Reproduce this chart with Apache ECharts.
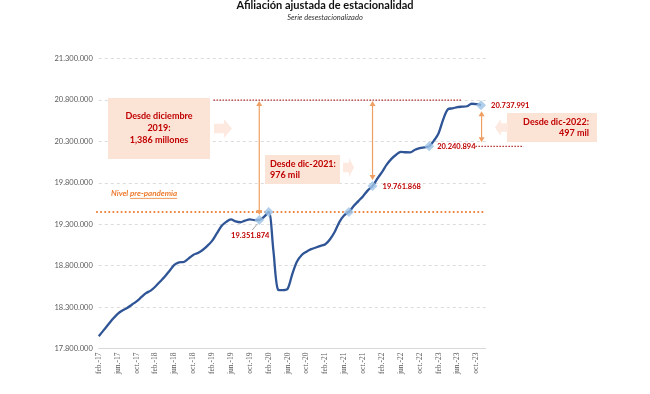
<!DOCTYPE html>
<html><head><meta charset="utf-8">
<script src="https://cdn.jsdelivr.net/npm/echarts@6/dist/echarts.min.js"></script>
<style>html,body{margin:0;padding:0;background:#fff}#c{width:650px;height:394px}</style>
</head><body><div id="c"></div>
<script>
const FONT = 'Lato, "Open Sans", sans-serif';
const title = 'Afiliación ajustada de estacionalidad';
const subtitle = 'Serie desestacionalizado';

const months = [
 'feb.-17','mar.-17','abr.-17','may.-17','jun.-17','jul.-17','ago.-17','sep.-17','oct.-17','nov.-17','dic.-17',
 'ene.-18','feb.-18','mar.-18','abr.-18','may.-18','jun.-18','jul.-18','ago.-18','sep.-18','oct.-18','nov.-18','dic.-18',
 'ene.-19','feb.-19','mar.-19','abr.-19','may.-19','jun.-19','jul.-19','ago.-19','sep.-19','oct.-19','nov.-19','dic.-19',
 'ene.-20','feb.-20','mar.-20','abr.-20','may.-20','jun.-20','jul.-20','ago.-20','sep.-20','oct.-20','nov.-20','dic.-20',
 'ene.-21','feb.-21','mar.-21','abr.-21','may.-21','jun.-21','jul.-21','ago.-21','sep.-21','oct.-21','nov.-21','dic.-21',
 'ene.-22','feb.-22','mar.-22','abr.-22','may.-22','jun.-22','jul.-22','ago.-22','sep.-22','oct.-22','nov.-22','dic.-22',
 'ene.-23','feb.-23','mar.-23','abr.-23','may.-23','jun.-23','jul.-23','ago.-23','sep.-23','oct.-23','nov.-23','dic.-23'
];

const afiliados = [
 17950000,18020000,18090000,18160000,18220000,18260000,18290000,18330000,18370000,18420000,18470000,
 18500000,18550000,18610000,18670000,18740000,18810000,18840000,18845000,18885000,18930000,18955000,18990000,
 19040000,19100000,19190000,19280000,19330000,19360000,19335000,19325000,19345000,19360000,19350000,19351874,
 19390000,19450000,18980000,18510000,18505000,18520000,18700000,18850000,18930000,18970000,19000000,19020000,
 19040000,19060000,19120000,19210000,19330000,19410000,19450000,19520000,19580000,19640000,19710000,19761868,
 19850000,19930000,20020000,20090000,20140000,20175000,20170000,20168000,20200000,20220000,20230000,20240894,
 20310000,20400000,20570000,20690000,20700000,20715000,20720000,20725000,20755000,20750000,20737991
];

const hitos = [34, 36, 53, 58, 70, 81];           // diamond markers
const nivelPrePandemia = 19450000;
const refSuperior = 20800000;
const yMin = 17800000, yMax = 21300000, yStep = 500000;

const fmt = v => String(Math.round(v)).replace(/\B(?=(\d{3})+(?!\d))/g, '.');

const chart = echarts.init(document.getElementById('c'));
chart.setOption({
  animation: false,
  backgroundColor: '#fff',
  title: {
    text: title, subtext: subtitle, left: 'center', top: 0, padding: 0, itemGap: 3,
    textStyle: {fontFamily: FONT, fontSize: 11, fontWeight: 'bold', color: '#111'},
    subtextStyle: {fontFamily: FONT, fontSize: 7.5, fontStyle: 'italic', color: '#333'}
  },
  grid: {left: 98.8, top: 58.6, width: 387, height: 290},
  xAxis: {
    type: 'category', data: months, boundaryGap: false,
    axisLine: {lineStyle: {color: '#d9d9d9'}}, axisTick: {show: false},
    axisLabel: {interval: 3, rotate: 90, fontSize: 7.5, color: '#595959', fontFamily: '"Liberation Serif", serif', margin: 4}
  },
  yAxis: {
    type: 'value', min: yMin, max: yMax, interval: yStep,
    axisLine: {show: false}, axisTick: {show: false},
    axisLabel: {formatter: fmt, fontSize: 7.5, color: '#595959', fontFamily: FONT, margin: 6},
    splitLine: {lineStyle: {color: '#dcdcdc', type: [3, 3], width: 1}}
  },
  series: [
    {type: 'line', data: afiliados, showSymbol: false, smooth: 0.3,
     lineStyle: {color: '#2f5597', width: 2.3}, z: 3},
    {type: 'scatter', data: hitos.map(i => [i, afiliados[i]]), symbol: 'diamond', symbolSize: 10,
     itemStyle: {color: '#9dc3e6'}, z: 5}
  ]
});

const Y0 = afiliados[0];
const x0 = chart.convertToPixel({gridIndex: 0}, [0, Y0])[0];
const dx = chart.convertToPixel({gridIndex: 0}, [1, Y0])[0] - x0;
const X = i => x0 + dx * i;
const Yp = v => chart.convertToPixel({gridIndex: 0}, [0, v])[1];

const RED = '#c00000', ORANGE = '#ed7d31', ARW = '#ef9f62', BOX = '#fbe3d6', CHEV = '#fde9df';
const g = [];
const line = (x1, y1, x2, y2, stroke, w, dash, z, cap) => g.push({type: 'line', shape: {x1, y1, x2, y2}, style: {stroke, lineWidth: w, lineDash: dash || null, lineCap: cap || 'butt'}, z: z || 4, silent: true});
const txt = (text, x, y, o) => g.push({type: 'text', z: 6, silent: true, style: Object.assign({text, x, y, fill: RED, fontFamily: FONT, fontSize: 7.5, fontWeight: 'bold', align: 'left', verticalAlign: 'middle'}, o || {})});
const tri = (x, y, up) => g.push({type: 'polygon', z: 4, silent: true, shape: {points: up ? [[x, y], [x - 3, y + 5], [x + 3, y + 5]] : [[x, y], [x - 3, y - 5], [x + 3, y - 5]]}, style: {fill: ARW}});
const vArrow = (x, yTop, yBot) => { line(x, yTop + 3, x, yBot - 3, ARW, 1.2); tri(x, yTop, true); tri(x, yBot, false); };
const chevron = (x, y, w, h, left) => {
  const pts = left
    ? [[x, y + h / 2], [x + w * 0.45, y], [x + w * 0.45, y + h * 0.25], [x + w, y + h * 0.25], [x + w, y + h * 0.75], [x + w * 0.45, y + h * 0.75], [x + w * 0.45, y + h]]
    : [[x + w, y + h / 2], [x + w * 0.55, y], [x + w * 0.55, y + h * 0.25], [x, y + h * 0.25], [x, y + h * 0.75], [x + w * 0.55, y + h * 0.75], [x + w * 0.55, y + h]];
  g.push({type: 'polygon', z: 1, silent: true, shape: {points: pts}, style: {fill: CHEV}});
};
const box = (x, y, w, h) => g.push({type: 'rect', z: 1, silent: true, shape: {x, y, width: w, height: h}, style: {fill: BOX}});

// pre-pandemic level
const yPre = Yp(nivelPrePandemia);
line(X(-0.4), yPre, X(81.6), yPre, ORANGE, 2, [0.1, 4], 2, 'round');
const ctx = document.createElement('canvas').getContext('2d');
ctx.font = 'italic bold 8px ' + FONT;
const wNivel = ctx.measureText('Nivel ').width, wPre = ctx.measureText('pre-pandemia').width;
txt('Nivel ', 111, yPre - 18, {fill: ORANGE, fontSize: 8, fontStyle: 'italic'});
txt('pre-pandemia', 111 + wNivel, yPre - 18, {fill: ORANGE, fontSize: 8, fontStyle: 'italic'});
line(111 + wNivel, yPre - 13.5, 111 + wNivel + wPre, yPre - 13.5, ORANGE, 0.8);

// upper reference dotted line
const yTop = Yp(refSuperior);
line(X(24.3), yTop, X(77), yTop, '#b03030', 1.2, [1.5, 1.5], 3);

// vertical arrows
vArrow(X(34), yTop + 1, Yp(afiliados[34]) - 5);
vArrow(X(58), yTop + 1, Yp(afiliados[58]) - 6);
const yD22 = Yp(afiliados[70]);
vArrow(X(81) + 0.5, Yp(afiliados[81]) + 6, yD22 - 4);
// dec-22 dotted line to the right
line(X(79.8), yD22, X(90), yD22, '#b03030', 1.2, [1.5, 1.5], 3);

// value labels
const y34 = Yp(afiliados[34]);
line(X(34) - 2, y34 + 4, X(34) - 7, y34 + 10, '#a6a6a6', 1);
txt(fmt(afiliados[34]), X(34) - 9, y34 + 16, {align: 'center'});
txt(fmt(afiliados[58]), X(58) + 10, Yp(afiliados[58]) + 1);
txt(fmt(afiliados[70]), X(70) + 8, yD22);
txt(fmt(afiliados[81]), X(81) + 10, Yp(afiliados[81]));

// callout boxes
box(108, 98, 102, 61);
txt('Desde diciembre\n2019:\n1,386 millones', 159, 128.5, {align: 'center', fontSize: 9, lineHeight: 12});
chevron(214, 119, 18, 19, false);

box(265, 155, 75, 29);
txt('Desde dic-2021:\n976 mil', 270, 169.5, {fontSize: 9, lineHeight: 11});
chevron(343, 158, 11, 19, false);

box(507, 113, 90, 29);
txt('Desde dic-2022:\n497 mil', 589, 128, {align: 'right', fontSize: 9, lineHeight: 11});
chevron(495, 119, 13, 17, true);

chart.setOption({graphic: {elements: g}});
</script>
</body></html>
